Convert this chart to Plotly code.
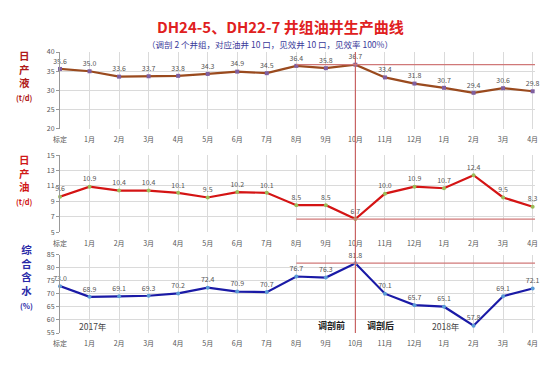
import plotly.graph_objects as go

categories = ["标定", "1月", "2月", "3月", "4月", "5月", "6月", "7月", "8月", "9月",
              "10月", "11月", "12月", "1月", "2月", "3月", "4月"]
liquid = [35.6, 35.0, 33.6, 33.7, 33.8, 34.3, 34.9, 34.5, 36.4, 35.8, 36.7, 33.4, 31.8, 30.7, 29.4, 30.6, 29.8]
oil = [9.6, 10.9, 10.4, 10.4, 10.1, 9.5, 10.2, 10.1, 8.5, 8.5, 6.7, 10.0, 10.9, 10.7, 12.4, 9.5, 8.3]
water = [73.0, 68.9, 69.1, 69.3, 70.2, 72.4, 70.9, 70.7, 76.7, 76.3, 81.8, 70.1, 65.7, 65.1, 57.8, 69.1, 72.1]

xs = list(range(len(categories)))
FONT = "Noto Sans CJK SC, Noto Sans, sans-serif"

fig = go.Figure()

panels = [
    dict(y=liquid, line="#9A4A1E", marker="#7F5FA0", yaxis="y", xaxis="x",
         rng=[20, 40], tick0=20, dtick=5, dom=[0.726, 1.0]),
    dict(y=oil, line="#D41414", marker="#9BBB59", yaxis="y2", xaxis="x2",
         rng=[5, 15], tick0=5, dtick=2, dom=[0.359, 0.633]),
    dict(y=water, line="#1A1AA6", marker="#5B9BD5", yaxis="y3", xaxis="x3",
         rng=[55, 85], tick0=55, dtick=5, dom=[0.0, 0.278]),
]

for i, p in enumerate(panels):
    fig.add_trace(go.Scatter(
        x=xs, y=p["y"], mode="lines+markers+text",
        text=[f"{v:.1f}" for v in p["y"]], textposition="top center",
        textfont=dict(size=7, color="#555555", family=FONT),
        line=dict(color=p["line"], width=2.2),
        marker=dict(color=p["marker"], size=4, symbol="square" if i == 0 else "circle"),
        xaxis=p["xaxis"], yaxis=p["yaxis"], showlegend=False, cliponaxis=False,
    ))

axis_common_x = dict(range=[0, 16.08], tickmode="array", tickvals=xs, ticktext=categories,
                     showgrid=True, gridcolor="#DADADA", gridwidth=1, zeroline=False,
                     tickfont=dict(size=7, color="#555555", family=FONT),
                     showline=False, ticks="outside", ticklen=4,
                     tickcolor="rgba(0,0,0,0)")
axis_common_y = dict(showgrid=True, gridcolor="#DADADA", gridwidth=1, zeroline=False,
                     tickfont=dict(size=7, color="#555555", family=FONT),
                     showline=True, linecolor="#999999", ticks="outside", ticklen=3,
                     tickcolor="#999999", tickmode="linear")

layout = dict(
    width=554, height=372, plot_bgcolor="white", paper_bgcolor="white",
    margin=dict(l=52, r=27, t=44, b=47),
    font=dict(family=FONT),
)
for i, p in enumerate(panels):
    s = "" if i == 0 else str(i + 1)
    layout["xaxis" + s] = dict(axis_common_x, domain=[0, 1], anchor="y" + s)
    layout["yaxis" + s] = dict(axis_common_y, domain=p["dom"], range=p["rng"],
                              tick0=p["tick0"], dtick=p["dtick"], anchor="x" + s)
fig.update_layout(**layout)

# reference lines
fig.add_shape(type="line", xref="x", yref="paper", x0=10, x1=10, y0=0, y1=1.0,
              line=dict(color="#C86464", width=1.2))
for ax, val in [("", liquid[10]), ("2", oil[10]), ("3", water[10])]:
    fig.add_shape(type="line", xref="x" + ax, yref="y" + ax, x0=8, x1=16.08, y0=val, y1=val,
                  line=dict(color="#D07878", width=1.2))


def ann_px(text, x, y, size, color, bold=False, xanchor="center"):
    t = f"<b>{text}</b>" if bold else text
    fig.add_annotation(text=t, xref="paper", yref="paper",
                       x=(x - 52) / (554 - 52 - 27), y=(325 - y) / (325 - 44),
                       showarrow=False, xanchor=xanchor, yanchor="middle",
                       font=dict(size=size, color=color, family=FONT))


ann_px("DH24-5、DH22-7 井组油井生产曲线", 272, 19, 15, "#E02020", bold=True)
ann_px("（调剖 2 个井组，对应油井 10 口，见效井 10 口，见效率 100%）", 262, 36, 8.5, "#3A3A9A")

ann_px("日<br>产<br>液<br><span style='font-size:7.5px'>(t/d)</span>", 16, 68, 10.5, "#B01818", bold=True)
ann_px("日<br>产<br>油<br><span style='font-size:7.5px'>(t/d)</span>", 16, 171, 10.5, "#D01818", bold=True)
ann_px("综<br>合<br>含<br>水<br><span style='font-size:7.5px'>(%)</span>", 18, 268, 10.5, "#2A2AA8", bold=True)

ann_px("2017年", 85, 318, 8.5, "#444444")
ann_px("2018年", 438, 318, 8.5, "#444444")
ann_px("调剖前", 323, 317, 9, "#222222", bold=True)
ann_px("调剖后", 372, 317, 9, "#222222", bold=True)

fig.write_html("out.html")
